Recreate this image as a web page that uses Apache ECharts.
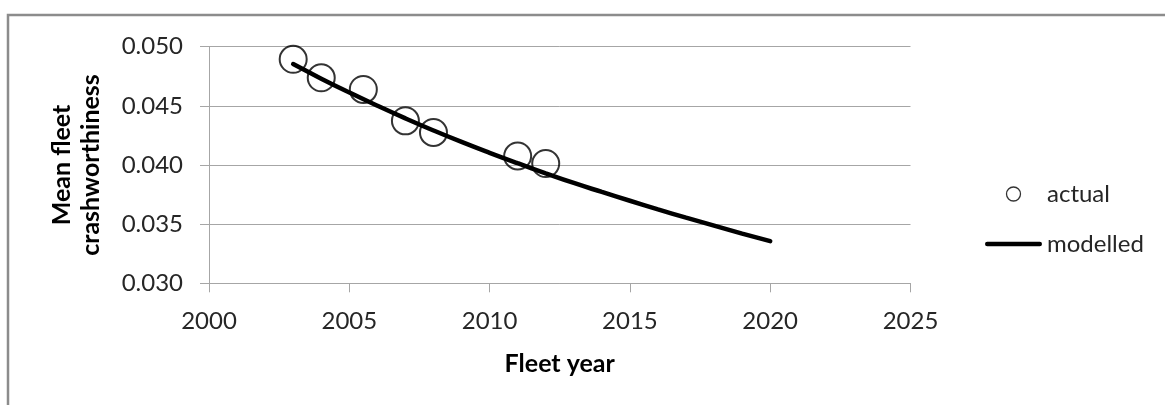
<!DOCTYPE html>
<html>
<head>
<meta charset="utf-8">
<script src="https://cdn.jsdelivr.net/npm/echarts@6/dist/echarts.min.js"></script>
<style>
html,body{margin:0;padding:0;background:#fff;}
#chart{width:1165px;height:405px;}
</style>
</head>
<body>
<div id="chart"></div>
<script>
// ---- data ----
const actualYears  = [2003, 2004, 2005.5, 2007, 2008, 2011, 2012];
const actualValues = [0.04893, 0.04737, 0.04639, 0.04373, 0.04275, 0.04076, 0.04012];
const modelYears   = [2003, 2004, 2005, 2006, 2007, 2008, 2009, 2010, 2011, 2012, 2013, 2014, 2015, 2016, 2017, 2018, 2019, 2020];
const modelValues  = [0.04853, 0.04730, 0.04613, 0.04501, 0.04394, 0.04292, 0.04195, 0.04103, 0.04015, 0.03930, 0.03848, 0.03772, 0.03698, 0.03625, 0.03555, 0.03487, 0.03420, 0.03356];
const seriesNames  = ['actual', 'modelled'];
const xTitle = 'Fleet year';
const yTitle = 'Mean fleet\ncrashworthiness';

const FONT = 'Lato';
const gridColor = '#a6a6a6';
const chart = echarts.init(document.getElementById('chart'), null, {renderer: 'canvas'});

chart.setOption({
  animation: false,
  backgroundColor: '#fff',
  textStyle: {fontFamily: FONT},
  graphic: [{
    type: 'rect', silent: true, z: -10,
    shape: {x: 8, y: 15, width: 1400, height: 600},
    style: {fill: 'none', stroke: '#8c8c8c', lineWidth: 2.5}
  }],
  grid: {left: 209, top: 46.7, width: 701.5, height: 236.6, containLabel: false},
  legend: {
    orient: 'vertical',
    left: 980, top: 177,
    itemWidth: 57, itemHeight: 14, itemGap: 26,
    textStyle: {fontFamily: FONT, fontSize: 24, color: '#262626', lineHeight: 24},
    data: [
      {name: seriesNames[0], icon: 'circle', itemStyle: {color: 'rgba(0,0,0,0)', borderColor: '#000', borderWidth: 1.3}},
      {name: seriesNames[1], icon: 'path://M2,0L55,0A2,2 0 0 1 55,4.5L2,4.5A2,2 0 0 1 2,0Z', itemStyle: {color: '#000', borderWidth: 0}}
    ]
  },
  xAxis: {
    type: 'value', min: 2000, max: 2025, interval: 5,
    name: xTitle, nameLocation: 'middle', nameGap: 68,
    nameTextStyle: {fontFamily: FONT, fontSize: 25, fontWeight: 'bold', color: '#000'},
    axisLine: {show: true, lineStyle: {color: gridColor, width: 1}},
    axisTick: {show: true, length: 9, lineStyle: {color: gridColor}},
    axisLabel: {margin: 26, fontSize: 24, color: '#262626', fontFamily: FONT,
      formatter: v => String(v)},
    splitLine: {show: false}
  },
  yAxis: {
    type: 'value', min: 0.030, max: 0.050, interval: 0.005,
    name: yTitle, nameLocation: 'middle', nameGap: 104, nameRotate: 90,
    nameTextStyle: {fontFamily: FONT, fontSize: 25, fontWeight: 'bold', color: '#000', lineHeight: 29},
    axisLine: {show: true, lineStyle: {color: gridColor, width: 1}},
    axisTick: {show: true, length: 9, lineStyle: {color: gridColor}},
    axisLabel: {margin: 26, fontSize: 24, color: '#262626', fontFamily: FONT,
      formatter: v => v.toFixed(3)},
    splitLine: {show: true, lineStyle: {color: gridColor, width: 1}}
  },
  series: [
    {
      name: seriesNames[0], type: 'scatter',
      data: actualYears.map((x, i) => [x, actualValues[i]]),
      symbol: 'circle', symbolSize: 27,
      itemStyle: {color: 'rgba(0,0,0,0)', borderColor: '#000', borderWidth: 2},
      z: 2
    },
    {
      name: seriesNames[1], type: 'line',
      data: modelYears.map((x, i) => [x, modelValues[i]]),
      symbol: 'none', smooth: true,
      lineStyle: {color: '#000', width: 4.5, cap: 'round'},
      itemStyle: {color: '#000'},
      z: 3
    }
  ]
});
</script>
</body>
</html>
